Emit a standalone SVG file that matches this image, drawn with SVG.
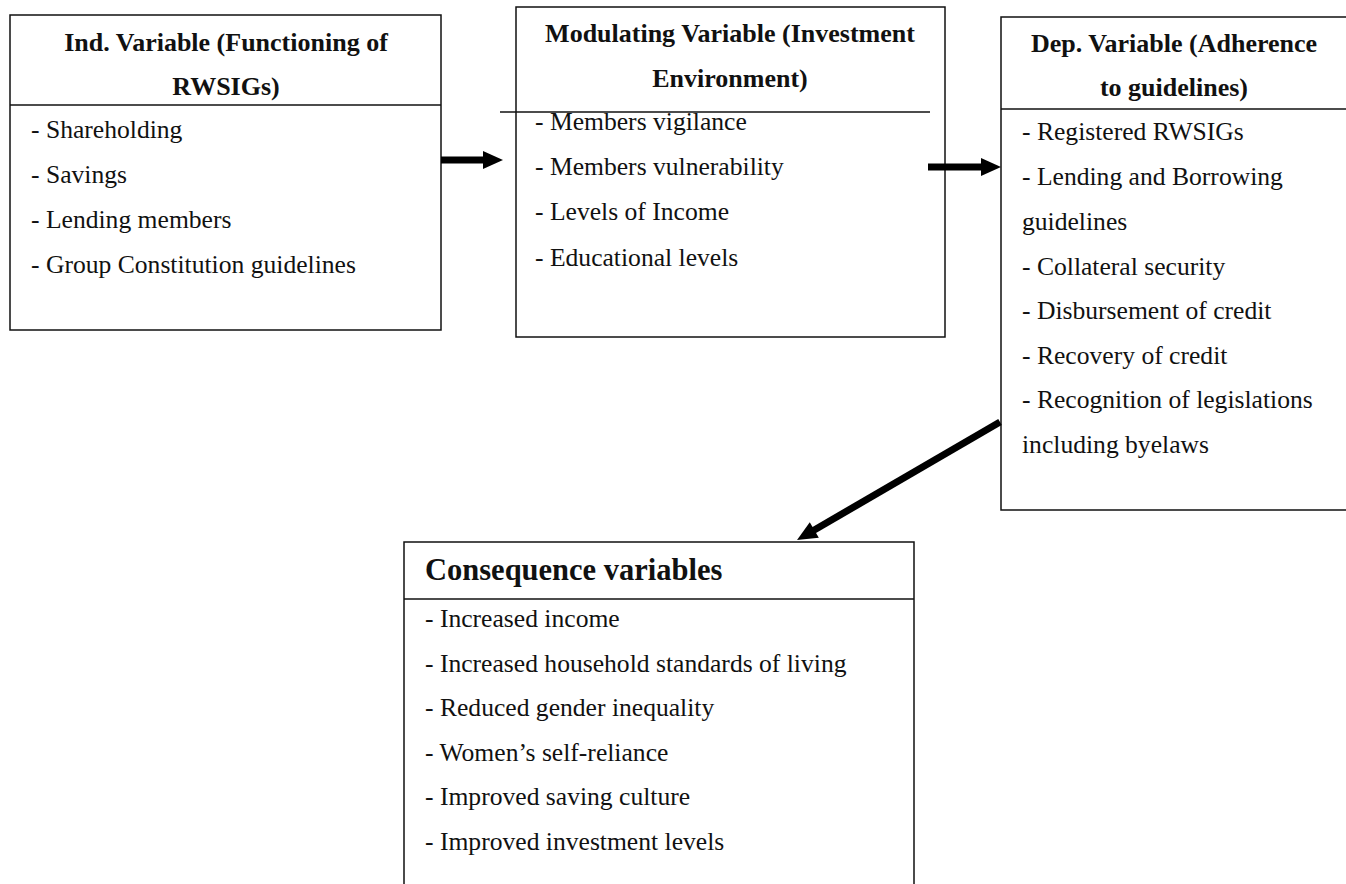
<svg xmlns="http://www.w3.org/2000/svg" width="1346" height="884" viewBox="0 0 1346 884">
<style>
.box{fill:#fff;stroke:#111;stroke-width:1.5}
.rule{stroke:#111;stroke-width:1.5;fill:none}
.t{font-family:"Liberation Serif","Times New Roman",serif;font-size:25.6px;fill:#111}
.h{font-family:"Liberation Serif","Times New Roman",serif;font-size:26px;font-weight:bold;fill:#111;text-anchor:middle}
.h2{font-family:"Liberation Serif","Times New Roman",serif;font-size:30.5px;font-weight:bold;fill:#111}
.conn{stroke:#000;stroke-width:7;fill:none;marker-end:url(#ah)}
</style>
<defs>
<marker id="ah" markerUnits="userSpaceOnUse" markerWidth="20" markerHeight="18" refX="3" refY="9" orient="auto" overflow="visible">
<path d="M0,0 L20,9 L0,18 z" fill="#000"/>
</marker>
</defs>
<rect width="1346" height="884" fill="#fff"/>
<g id="ind">
<rect class="box" x="10" y="15" width="431" height="315"/>
<line class="rule" x1="10" y1="105" x2="441" y2="105"/>
<text class="h" x="226" y="51">Ind. Variable (Functioning of</text>
<text class="h" x="226" y="95">RWSIGs)</text>
<text class="t" x="31" y="138">- Shareholding</text>
<text class="t" x="31" y="183">- Savings</text>
<text class="t" x="31" y="228">- Lending members</text>
<text class="t" x="31" y="273">- Group Constitution guidelines</text>
</g>
<g id="mod">
<rect class="box" x="516" y="7" width="429" height="330"/>
<line class="rule" x1="500" y1="112" x2="930" y2="112"/>
<text class="h" x="730" y="42">Modulating Variable (Investment</text>
<text class="h" x="730" y="87">Environment)</text>
<text class="t" x="535" y="130">- Members vigilance</text>
<text class="t" x="535" y="175">- Members vulnerability</text>
<text class="t" x="535" y="220">- Levels of Income</text>
<text class="t" x="535" y="266">- Educational levels</text>
</g>
<g id="dep">
<path class="box" d="M1348,17 L1001,17 L1001,510 L1348,510"/>
<line class="rule" x1="1001" y1="109" x2="1346" y2="109"/>
<text class="h" x="1174" y="52">Dep. Variable (Adherence</text>
<text class="h" x="1174" y="96">to guidelines)</text>
<text class="t" x="1022" y="140">- Registered RWSIGs</text>
<text class="t" x="1022" y="185">- Lending and Borrowing</text>
<text class="t" x="1022" y="230">guidelines</text>
<text class="t" x="1022" y="275">- Collateral security</text>
<text class="t" x="1022" y="319">- Disbursement of credit</text>
<text class="t" x="1022" y="364">- Recovery of credit</text>
<text class="t" x="1022" y="408">- Recognition of legislations</text>
<text class="t" x="1022" y="453">including byelaws</text>
</g>
<g id="cons">
<path class="box" d="M404,886 L404,542 L914,542 L914,886"/>
<line class="rule" x1="404" y1="599" x2="914" y2="599"/>
<text class="h2" x="425" y="580">Consequence variables</text>
<text class="t" x="425" y="627">- Increased income</text>
<text class="t" x="425" y="672">- Increased household standards of living</text>
<text class="t" x="425" y="716">- Reduced gender inequality</text>
<text class="t" x="425" y="761">- Women’s self-reliance</text>
<text class="t" x="425" y="805">- Improved saving culture</text>
<text class="t" x="425" y="850">- Improved investment levels</text>
</g>
<g id="connectors">
<line class="conn" x1="441" y1="160" x2="486" y2="160"/>
<line class="conn" x1="928" y1="167" x2="984" y2="167"/>
<line class="conn" x1="1000" y1="422" x2="811.7" y2="531.5"/>
</g>
</svg>
